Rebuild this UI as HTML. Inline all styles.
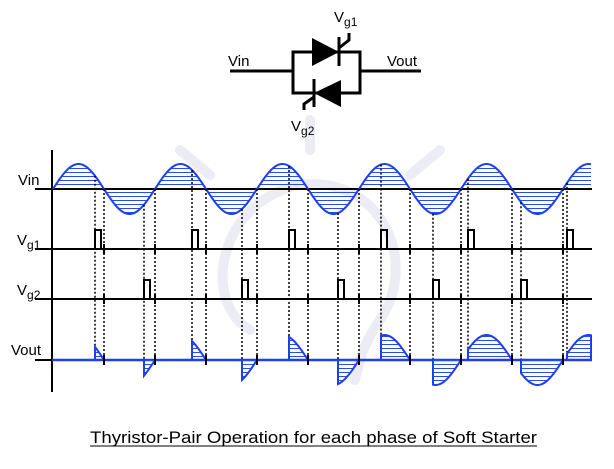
<!DOCTYPE html>
<html><head><meta charset="utf-8">
<style>
html,body{margin:0;padding:0;background:#fff;}
svg{display:block;}
text{font-family:"Liberation Sans",Arial,sans-serif;fill:#000;}
</style></head>
<body>
<svg id="s" width="614" height="469" viewBox="0 0 614 469" xmlns="http://www.w3.org/2000/svg">
<defs>
<pattern id="h" width="8" height="4" patternUnits="userSpaceOnUse">
<rect x="0" y="0" width="8" height="1" fill="#2a4de8"/>
</pattern>
</defs>
<!-- watermark -->
<g fill="none" stroke="#ececf5" stroke-width="10" stroke-linecap="round">
<path d="M250 330 C200 300 220 200 300 185 C380 175 420 260 380 320 C360 350 360 360 355 380"/>
<line x1="180" y1="150" x2="210" y2="175"/>
<line x1="440" y1="150" x2="410" y2="175"/>
<line x1="310" y1="120" x2="310" y2="150"/>
</g>
<!-- circuit -->
<g stroke="#000" stroke-width="3" fill="none">
<line x1="230" y1="71" x2="293" y2="71"/>
<line x1="360" y1="71" x2="421" y2="71"/>
<rect x="293" y="52" width="67" height="41"/>
<line x1="339" y1="37" x2="339" y2="66"/>
<polyline points="339,48 349,40 349,33"/>
<line x1="314" y1="79" x2="314" y2="107"/>
<polyline points="314,97 304,104 304,110"/>
</g>
<polygon points="312,38 339,52 312,66" fill="#000"/>
<polygon points="341,80 314,93 341,107" fill="#000"/>
<text x="228" y="66" font-size="15">Vin</text>
<text x="387" y="66" font-size="15">Vout</text>
<text x="334" y="22" font-size="15">V<tspan font-size="12" dy="4">g1</tspan></text>
<text x="291" y="131" font-size="15">V<tspan font-size="12" dy="4">g2</tspan></text>
<!-- labels -->
<text x="18" y="185" font-size="15">Vin</text>
<text x="17" y="245" font-size="15">V<tspan font-size="12" dy="4">g1</tspan></text>
<text x="17" y="295" font-size="15">V<tspan font-size="12" dy="4">g2</tspan></text>
<text x="11" y="355" font-size="15">Vout</text>
<text x="90" y="443" font-size="17" textLength="447" lengthAdjust="spacingAndGlyphs">Thyristor-Pair Operation for each phase of Soft Starter</text>
<line x1="90" y1="446" x2="537" y2="446" stroke="#000" stroke-width="1"/>
<g id="g"></g>
</svg>
<script>
(function(){
var g=document.getElementById('g');var out='';
function S(x){return 25*Math.sin(Math.PI*(x-53)/51);}
function Y(x){return 189-S(x);}
function V(x){return 360-S(x);}
var x0=53,x1=591;
var d='M'+x0+' 189';for(var x=x0;x<=x1;x+=1)d+=' L'+x+' '+Y(x).toFixed(2);d+=' L'+x1+' 189 Z';
out+='<path d="'+d+'" fill="url(#h)"/>';
out+='<line x1="52" y1="150" x2="52" y2="392" stroke="#000" stroke-width="2"/>';
[189,249,299,360].forEach(function(y){out+='<line x1="35" y1="'+y+'" x2="592" y2="'+y+'" stroke="#000" stroke-width="2"/>';});
var d2='M'+x0+' '+Y(x0).toFixed(2);for(var x=x0+1;x<=x1;x+=1)d2+=' L'+x+' '+Y(x).toFixed(2);
out+='<path d="'+d2+'" fill="none" stroke="#1f3fe8" stroke-width="2"/>';
var p1=[95,192,289,381,468,567],p2=[144,242,338,433,521];
// dotted
var xs=p1.concat(p2);for(var k=1;k<=10;k++)xs.push(53+51*k);
xs.forEach(function(x){out+='<line x1="'+x+'" y1="'+Y(x).toFixed(1)+'" x2="'+x+'" y2="360" stroke="#000" stroke-width="1.5" stroke-dasharray="2,2"/>';});
out+='<line x1="52" y1="360" x2="592" y2="360" stroke="#1f3fe8" stroke-width="2.5"/>';
function seg(f,end){var s='M'+f+' 360 L'+f+' '+V(f).toFixed(2);for(var x=f+1;x<=end;x++)s+=' L'+x+' '+V(x).toFixed(2);s+=' L'+end+' 360';return s;}
p1.forEach(function(f,i){var e=Math.min(53+102*i+51,591);out+='<path d="'+seg(f,e)+' Z" fill="url(#h)"/><path d="'+seg(f,e)+'" fill="none" stroke="#1f3fe8" stroke-width="2"/>';});
p2.forEach(function(f,i){var e=Math.min(53+102*i+102,591);out+='<path d="'+seg(f,e)+' Z" fill="url(#h)"/><path d="'+seg(f,e)+'" fill="none" stroke="#1f3fe8" stroke-width="2"/>';});
p1.forEach(function(f){out+='<polyline points="'+f+',249 '+f+',230 '+(f+6)+',230 '+(f+6)+',249" fill="none" stroke="#000" stroke-width="2"/>';});
p2.forEach(function(f){out+='<polyline points="'+f+',299 '+f+',280 '+(f+6)+',280 '+(f+6)+',299" fill="none" stroke="#000" stroke-width="2"/>';});
for(var k=1;k<=10;k++){var x=53+51*k;[249,299,360].forEach(function(y){out+='<line x1="'+x+'" y1="'+(y-5)+'" x2="'+x+'" y2="'+(y+5)+'" stroke="#000" stroke-width="2"/>';});}
g.innerHTML=out;
})();
</script>
</body></html>
